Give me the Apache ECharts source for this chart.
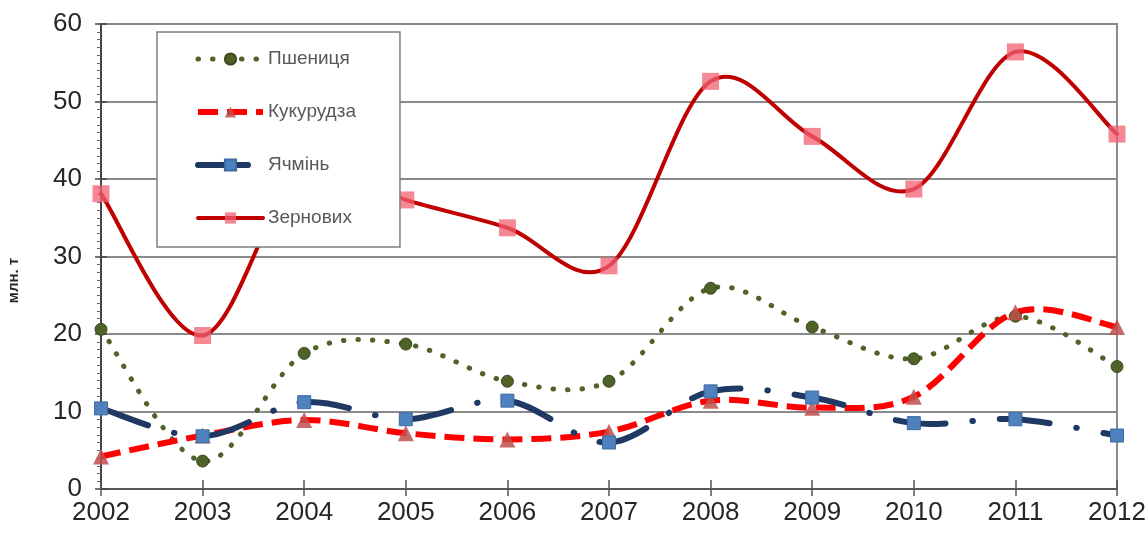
<!DOCTYPE html>
<html>
<head>
<meta charset="utf-8">
<script src="https://cdn.jsdelivr.net/npm/echarts@6/dist/echarts.min.js"></script>
<style>
html,body{margin:0;padding:0;background:#fff;}
#chart{width:1148px;height:537px;}
</style>
</head>
<body>
<div id="chart"></div>
<script>
const years = ['2002','2003','2004','2005','2006','2007','2008','2009','2010','2011','2012'];
const seriesNames = ['Пшениця','Кукурудза','Ячмінь','Зернових'];
const wheat  = [20.6, 3.6, 17.5, 18.7, 13.9, 13.9, 25.9, 20.9, 16.8, 22.3, 15.8];
const corn   = [4.2, 6.9, 8.9, 7.2, 6.4, 7.4, 11.4, 10.5, 11.9, 22.8, 20.9];
const barley = [10.4, 6.8, 11.2, 9.0, 11.4, 6.0, 12.6, 11.8, 8.5, 9.0, 6.9];
const grain  = [38.1, 19.8, 41.8, 37.3, 33.7, 28.8, 52.6, 45.5, 38.7, 56.4, 45.8];
const yMin = 0, yMax = 60, yStep = 10;
const yName = 'млн. т';

const FONT = 'Liberation Sans, Arial, sans-serif';

const styles = [
  {line: {color: '#4f6228', width: 5, type: [0.5, 14], cap: 'round'},
   symbol: 'circle', size: 12, item: {color: '#4f6228', borderColor: '#3b4a1e', borderWidth: 1}},
  {line: {color: '#ff0000', width: 6, type: [20, 9], cap: 'butt'},
   symbol: 'triangle', size: 16, item: {color: 'rgba(192,80,77,0.85)'}},
  {line: {color: '#1f3864', width: 6, type: [50, 27, 0.5, 27], cap: 'round'},
   symbol: 'rect', size: 13, item: {color: '#4f81bd', borderColor: '#3b6ca5', borderWidth: 1}},
  {line: {color: '#c00000', width: 4, type: 'solid', cap: 'round'},
   symbol: 'rect', size: 17, item: {color: 'rgba(240,96,114,0.75)'}}
];
const values = [wheat, corn, barley, grain];

// Excel-style smoothed curve (Catmull-Rom Bezier) drawn through axis coordinates
function curveSeries(vals, st) {
  return {
    type: 'custom', silent: true, xAxisIndex: 0, yAxisIndex: 0,
    data: vals.map((v, i) => [i, v]),
    encode: {x: 0, y: 1},
    renderItem: function (params, api) {
      if (params.dataIndex !== 0) return null;
      const p = vals.map((v, i) => api.coord([i, v]));
      const n = p.length;
      let d = 'M' + p[0][0] + ' ' + p[0][1];
      for (let i = 0; i < n - 1; i++) {
        const a = p[i - 1] || p[i], b = p[i], c = p[i + 1], e = p[i + 2] || p[i + 1];
        const c1x = b[0] + (c[0] - a[0]) / 6, c1y = b[1] + (c[1] - a[1]) / 6;
        const c2x = c[0] - (e[0] - b[0]) / 6, c2y = c[1] - (e[1] - b[1]) / 6;
        d += ' C' + c1x + ' ' + c1y + ' ' + c2x + ' ' + c2y + ' ' + c[0] + ' ' + c[1];
      }
      return {
        type: 'path', shape: {pathData: d},
        style: {fill: 'none', stroke: st.line.color, lineWidth: st.line.width,
                lineDash: Array.isArray(st.line.type) ? st.line.type : null, lineCap: st.line.cap, lineJoin: 'round'}
      };
    }
  };
}

const series = [];
values.forEach((vals, k) => {
  const st = styles[k];
  series.push(curveSeries(vals, st));
  series.push({
    name: seriesNames[k], type: 'line', data: vals,
    symbol: st.symbol, symbolSize: st.size,
    lineStyle: {width: 0, opacity: 0},
    itemStyle: st.item
  });
});

const chart = echarts.init(document.getElementById('chart'), null, {renderer: 'canvas'});
const option = {
  animation: false,
  backgroundColor: '#fff',
  grid: {left: 101, right: 31, top: 24, bottom: 48, show: true, borderColor: '#8a8a8a', borderWidth: 2,
         backgroundColor: 'transparent', outerBoundsMode: 'none', containLabel: false},
  legend: {
    data: seriesNames.map((nm, k) => ({
      name: nm,
      lineStyle: {color: styles[k].line.color, width: styles[k].line.width, type: styles[k].line.type,
                  cap: styles[k].line.cap, opacity: 1}
    })),
    orient: 'vertical',
    left: 157, top: 32,
    padding: [17, 44, 19, 38],
    itemWidth: 65, itemHeight: 14, itemGap: 33,
    backgroundColor: '#fff',
    borderColor: '#7f7f7f', borderWidth: 1.5,
    textStyle: {fontFamily: FONT, fontSize: 19, color: '#595959', lineHeight: 20}
  },
  xAxis: [{
    type: 'category', data: years, boundaryGap: false,
    axisLine: {lineStyle: {color: '#555', width: 2}},
    axisTick: {show: true, length: 7, lineStyle: {color: '#555', width: 1.5}},
    axisLabel: {fontFamily: FONT, fontSize: 26, color: '#262626', margin: 11},
    splitLine: {show: false}
  }, {
    type: 'category', data: years, boundaryGap: false, position: 'bottom',
    axisLine: {show: false},
    axisTick: {show: true, inside: true, length: 9, lineStyle: {color: '#555', width: 1.5}},
    axisLabel: {show: false}, splitLine: {show: false}
  }],
  yAxis: [{
    type: 'value', min: yMin, max: yMax, interval: yStep,
    name: yName, nameLocation: 'middle', nameGap: 80, nameRotate: 90,
    nameTextStyle: {fontFamily: FONT, fontSize: 15, fontWeight: 'bold', color: '#262626', padding: [0, 48, 0, 0]},
    axisLine: {show: true, lineStyle: {color: '#444', width: 2}},
    axisTick: {show: true, length: 6, lineStyle: {color: '#444', width: 1.5}},
    minorTick: {show: true, splitNumber: 10, length: 4, lineStyle: {color: '#666', width: 1}},
    axisLabel: {fontFamily: FONT, fontSize: 26, color: '#262626', margin: 19},
    splitLine: {show: true, lineStyle: {color: '#8a8a8a', width: 2}}
  }, {
    type: 'value', min: yMin, max: yMax, interval: yStep, position: 'left',
    axisLine: {show: false},
    axisTick: {show: true, inside: true, length: 6, lineStyle: {color: '#444', width: 1.5}},
    axisLabel: {show: false}, splitLine: {show: false}
  }],
  series: series
};
chart.setOption(option);
</script>
</body>
</html>
